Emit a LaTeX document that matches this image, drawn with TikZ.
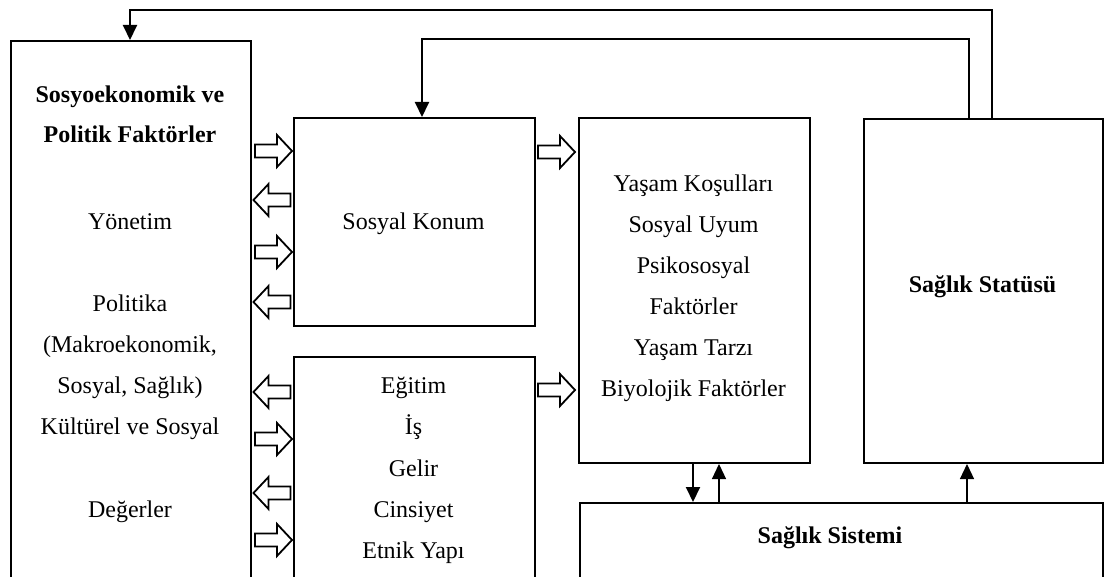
\documentclass[tikz,border=0pt]{standalone}
\usepackage{fontspec}
\setmainfont{Liberation Serif}
\usetikzlibrary{arrows.meta}
\begin{document}
\begin{tikzpicture}[x=1pt,y=-1pt,
  box/.style={draw, line width=2pt, inner sep=0pt, anchor=north west},
  txt/.style={anchor=base, inner sep=0pt, font=\fontsize{24}{28}\selectfont},
  btxt/.style={anchor=base, inner sep=0pt, font=\fontsize{24}{28}\selectfont\bfseries},
  link/.style={line width=2pt, -{Triangle[width=14pt,length=15pt]}},
  thinlink/.style={line width=1.2pt, -{Triangle[width=14pt,length=15pt]}},
  blk/.style={draw, line width=1.8pt, fill=white, line join=miter},
  rarr/.pic={\path[blk] (-18.5,-6.5) -- (3.5,-6.5) -- (3.5,-16) -- (18.5,0)
                 -- (3.5,16) -- (3.5,6.5) -- (-18.5,6.5) -- cycle;},
  larr/.pic={\path[blk] (18.5,-6.5) -- (-3.5,-6.5) -- (-3.5,-16) -- (-18.5,0)
                 -- (-3.5,16) -- (-3.5,6.5) -- (18.5,6.5) -- cycle;}]
\useasboundingbox (0,0) rectangle (1104,577);
\clip (-2,-2) rectangle (1106,579);

% boxes
\node[box, minimum width=240pt, minimum height=560pt] (sef) at (10,40) {};
\node[box, minimum width=241pt, minimum height=208pt] (konum) at (293,117) {};
\node[box, minimum width=241pt, minimum height=250pt] (egitim) at (293,356) {};
\node[box, minimum width=231pt, minimum height=345pt] (mid) at (578,117) {};
\node[box, minimum width=239pt, minimum height=344pt] (stat) at (863,118) {};
\node[box, minimum width=523pt, minimum height=120pt] (sis) at (579,502) {};

% left box text
\node[btxt] (t1) at (130,103) {Sosyoekonomik ve};
\node[btxt] (t2) at (130,143) {Politik Faktörler};
\node[txt] (t3) at (130,230) {Yönetim};
\node[txt] (t4) at (130,312) {Politika};
\node[txt] (t5) at (130,353) {(Makroekonomik,};
\node[txt] (t6) at (130,394) {Sosyal, Sağlık)};
\node[txt] (t7) at (130,435) {Kültürel ve Sosyal};
\node[txt] (t8) at (130,517) {Değerler};

% social position
\node[txt] (k1) at (413.5,230) {Sosyal Konum};

% education box text
\node[txt] (e1) at (413.5,394) {Eğitim};
\node[txt] (e2) at (413.5,435) {İş};
\node[txt] (e3) at (413.5,476) {Gelir};
\node[txt] (e4) at (413.5,517) {Cinsiyet};
\node[txt] (e5) at (413.5,558) {Etnik Yapı};

% intermediate factors
\node[txt] (m1) at (693.5,192) {Yaşam Koşulları};
\node[txt] (m2) at (693.5,233) {Sosyal Uyum};
\node[txt] (m3) at (693.5,274) {Psikososyal};
\node[txt] (m4) at (693.5,315) {Faktörler};
\node[txt] (m5) at (693.5,356) {Yaşam Tarzı};
\node[txt] (m6) at (693.5,397) {Biyolojik Faktörler};

% health status and health system
\node[btxt] (s1) at (982.5,293) {Sağlık Statüsü};
\node[btxt] (h1) at (830,543) {Sağlık Sistemi};

% block arrows between the columns
\pic (a1) at (273.5,151) {rarr};
\pic (a2) at (272,200) {larr};
\pic (a3) at (273.5,252) {rarr};
\pic (a4) at (272,302) {larr};
\pic (a5) at (272,392) {larr};
\pic (a6) at (273.5,439) {rarr};
\pic (a7) at (272,493) {larr};
\pic (a8) at (273.5,540) {rarr};
\pic (a9) at (556.5,152) {rarr};
\pic (a10) at (556.5,390) {rarr};

% feedback loops from health status
\draw[link] ([xshift=129pt]stat.north west) |- ([xshift=120pt,yshift=30pt]sef.north west)
            -- ([xshift=120pt]sef.north west);
\draw[link] ([xshift=106pt]stat.north west) |- ([xshift=129pt,yshift=78pt]konum.north west)
            -- ([xshift=129pt]konum.north west);

% links with the health system
\draw[link] ([xshift=115pt]mid.south west) -- ([xshift=115pt]mid.south west |- sis.north);
\draw[thinlink] ([xshift=141pt]mid.south west |- sis.north) -- ([xshift=141pt]mid.south west);
\draw[thinlink] ([xshift=104pt]stat.south west |- sis.north) -- ([xshift=104pt]stat.south west);
\end{tikzpicture}
\end{document}
